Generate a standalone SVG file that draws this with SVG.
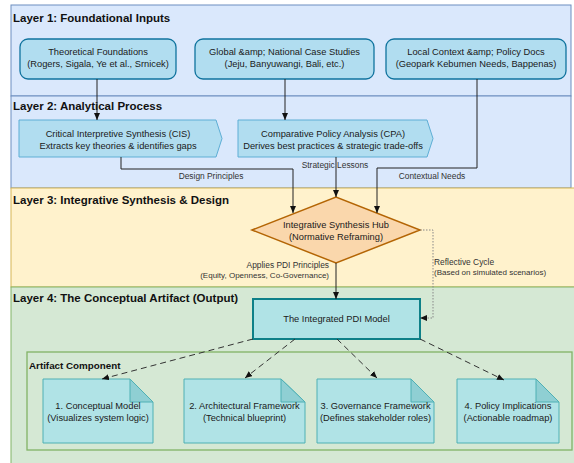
<svg xmlns="http://www.w3.org/2000/svg" width="574" height="463" viewBox="0 0 574 463">
<style>
text{font-family:"Liberation Sans",Arial,sans-serif;fill:#1a1a1a}
.lt{font-size:11.5px;font-weight:bold;fill:#111}
.nt{font-size:9.3px;text-anchor:middle}
.lb{font-size:8.4px;fill:#333}
.c{stroke:#222;stroke-width:1;fill:none}
.d{stroke:#333;stroke-width:1;fill:none;stroke-dasharray:6 4}
.dot{stroke:#888;stroke-width:1;fill:none;stroke-dasharray:1.5 1.5}
.l1{fill:#b1ddf0;stroke:#10739e;stroke-width:1.3}
.pent{fill:#b1ddf0;stroke:#5eaed5;stroke-width:1}
.doc{fill:#b0e3e6;stroke:#4fb0b4;stroke-width:1}
.fold{fill:#8fcfd3;stroke:#4fb0b4;stroke-width:1}
</style>
<defs>
<marker id="ah" markerUnits="userSpaceOnUse" markerWidth="7" markerHeight="6" refX="7" refY="3" orient="auto"><path d="M0,0 L7,3 L0,6 z" fill="#111"/></marker>
</defs>
<g id="layers">
<rect x="11" y="5" width="560" height="91" fill="#dae8fc" stroke="#6c8ebf"/>
<rect x="11" y="96" width="560" height="92" fill="#dae8fc" stroke="#6c8ebf"/>
<rect x="11" y="188" width="570" height="99" fill="#fff2cc" stroke="#d6b656"/>
<rect x="11" y="287" width="570" height="180" fill="#d5e8d4" stroke="#82b366"/>
<text class="lt" x="13" y="22">Layer 1: Foundational Inputs</text>
<text class="lt" x="13" y="110">Layer 2: Analytical Process</text>
<text class="lt" x="13" y="204">Layer 3: Integrative Synthesis &amp; Design</text>
<text class="lt" x="13" y="302">Layer 4: The Conceptual Artifact (Output)</text>
</g>
<g id="artifact-container">
<rect x="27" y="352" width="545" height="98" fill="#d5e8d4" stroke="#82b366" stroke-width="1.3"/>
<text x="29" y="369" style="font-size:9.8px;font-weight:bold;fill:#111">Artifact Component</text>
</g>
<g id="theoretical">
<rect class="l1" x="20" y="39" width="156" height="40" rx="8"/>
<text class="nt" x="98" y="55">Theoretical Foundations</text>
<text class="nt" x="98" y="67">(Rogers, Sigala, Ye et al., Srnicek)</text>
</g>
<g id="global">
<rect class="l1" x="195" y="39" width="179" height="40" rx="8"/>
<text class="nt" x="284.5" y="55">Global &amp;amp; National Case Studies</text>
<text class="nt" x="284.5" y="67">(Jeju, Banyuwangi, Bali, etc.)</text>
</g>
<g id="local">
<rect class="l1" x="386" y="39" width="180" height="40" rx="8"/>
<text class="nt" x="476" y="55">Local Context &amp;amp; Policy Docs</text>
<text class="nt" x="476" y="67">(Geopark Kebumen Needs, Bappenas)</text>
</g>
<g id="cis">
<path class="pent" d="M19,120 H216 L222,138.5 L216,157 H19 Z"/>
<text class="nt" x="118" y="136.5">Critical Interpretive Synthesis (CIS)</text>
<text class="nt" x="118" y="148.5">Extracts key theories &amp; identifies gaps</text>
</g>
<g id="cpa">
<path class="pent" d="M238,120 H427 L433,138.5 L427,157 H238 Z"/>
<text class="nt" x="333" y="136.5">Comparative Policy Analysis (CPA)</text>
<text class="nt" x="333" y="148.5">Derives best practices &amp; strategic trade-offs</text>
</g>
<g id="hub">
<polygon points="252,230 336,197 420,230 336,263" fill="#fad7ac" stroke="#b46504" stroke-width="1.5"/>
<text class="nt" x="336" y="227.5">Integrative Synthesis Hub</text>
<text class="nt" x="336" y="239.5">(Normative Reframing)</text>
</g>
<g id="pdi-model">
<rect x="253" y="299" width="167" height="40" fill="#b0e3e6" stroke="#0e8088" stroke-width="2"/>
<text class="nt" x="336.5" y="322">The Integrated PDI Model</text>
</g>
<g id="doc1">
<path class="doc" d="M43,379 H130 L153,402 V443 H43 Z"/>
<path class="fold" d="M130,379 V402 H153 Z"/>
<text class="nt" x="98" y="409">1. Conceptual Model</text>
<text class="nt" x="98" y="421">(Visualizes system logic)</text>
</g>
<g id="doc2">
<path class="doc" d="M184,379 H281 L305,402 V443 H184 Z"/>
<path class="fold" d="M281,379 V402 H305 Z"/>
<text class="nt" x="244.5" y="409">2. Architectural Framework</text>
<text class="nt" x="244.5" y="421">(Technical blueprint)</text>
</g>
<g id="doc3">
<path class="doc" d="M317,379 H411 L434,402 V443 H317 Z"/>
<path class="fold" d="M411,379 V402 H434 Z"/>
<text class="nt" x="375.5" y="409">3. Governance Framework</text>
<text class="nt" x="375.5" y="421">(Defines stakeholder roles)</text>
</g>
<g id="doc4">
<path class="doc" d="M457,379 H536 L559,402 V443 H457 Z"/>
<path class="fold" d="M536,379 V402 H559 Z"/>
<text class="nt" x="508" y="409">4. Policy Implications</text>
<text class="nt" x="508" y="421">(Actionable roadmap)</text>
</g>
<g id="connectors">
<path class="c" d="M97,79 V120" marker-end="url(#ah)"/>
<path class="c" d="M285,79 V120" marker-end="url(#ah)"/>
<path class="c" d="M121,157 V169 H293 V213" marker-end="url(#ah)"/>
<path class="c" d="M336,157 V197" marker-end="url(#ah)"/>
<path class="c" d="M477,79 V168 H377 V213" marker-end="url(#ah)"/>
<path class="c" d="M336,263 V299" marker-end="url(#ah)"/>
<path class="dot" d="M420,230 H433 V318 H420" marker-end="url(#ah)"/>
<path class="d" d="M253,339 L102,379" marker-end="url(#ah)"/>
<path class="d" d="M295,339 L245,378" marker-end="url(#ah)"/>
<path class="d" d="M337,339 L377,378" marker-end="url(#ah)"/>
<path class="d" d="M420,339 L504,380" marker-end="url(#ah)"/>
<text class="lb" x="211" y="179" text-anchor="middle">Design Principles</text>
<text class="lb" x="335" y="168" text-anchor="middle">Strategic Lessons</text>
<text class="lb" x="432" y="179" text-anchor="middle">Contextual Needs</text>
<text class="lb" x="329" y="268" text-anchor="end">Applies PDI Principles</text>
<text class="lb" x="329" y="278" text-anchor="end" style="font-size:8px">(Equity, Openness, Co-Governance)</text>
<text class="lb" x="434" y="265">Reflective Cycle</text>
<text class="lb" x="434" y="275" style="font-size:8px">(Based on simulated scenarios)</text>
</g>
</svg>
